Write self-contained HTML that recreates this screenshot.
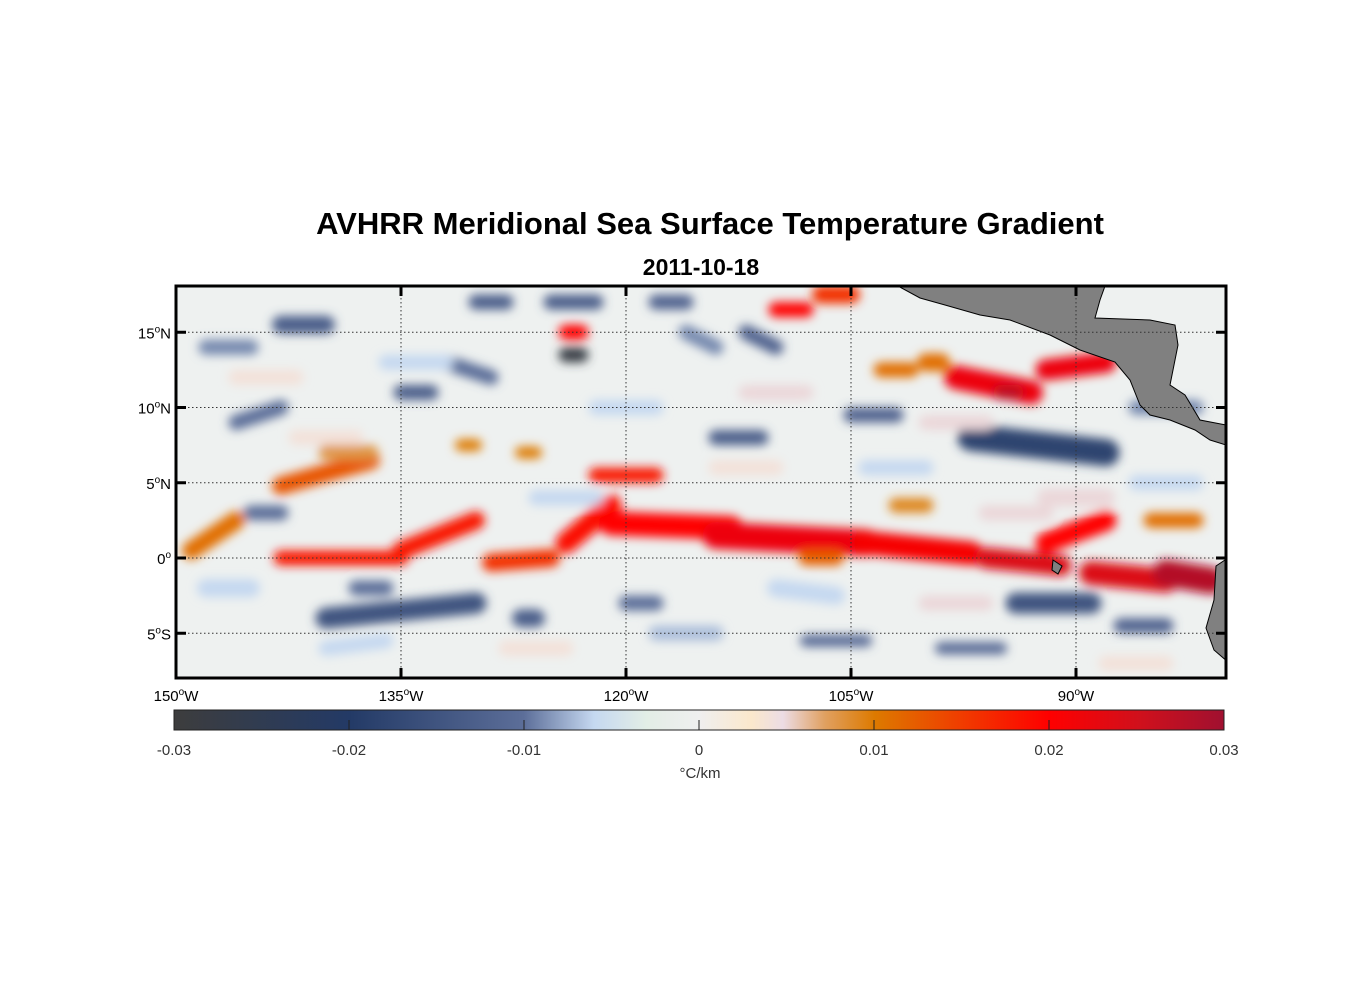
<!DOCTYPE html>
<html><head><meta charset="utf-8"><style>
body{margin:0;background:#fff;width:1356px;height:1000px;overflow:hidden;font-family:"Liberation Sans",sans-serif}
</style></head><body>
<svg width="1356" height="1000" style="position:absolute;left:0;top:0">
<defs>
<filter id="blur" x="-20%" y="-20%" width="140%" height="140%"><feGaussianBlur stdDeviation="5"/></filter>
<clipPath id="mapclip"><rect x="176" y="286" width="1050" height="392"/></clipPath>
<linearGradient id="cbg" x1="0" x2="1" y1="0" y2="0">
<stop offset="0" stop-color="#3d3d3d"/><stop offset="0.167" stop-color="#233a66"/>
<stop offset="0.333" stop-color="#5c6e99"/><stop offset="0.40" stop-color="#c5d8f0"/>
<stop offset="0.45" stop-color="#e3eee6"/><stop offset="0.5" stop-color="#efefef"/>
<stop offset="0.55" stop-color="#fbe8cc"/><stop offset="0.58" stop-color="#ecdce4"/>
<stop offset="0.62" stop-color="#e0a060"/><stop offset="0.667" stop-color="#dd7a00"/>
<stop offset="0.75" stop-color="#f03c00"/><stop offset="0.833" stop-color="#ff0000"/>
<stop offset="0.92" stop-color="#d0101c"/><stop offset="1" stop-color="#a01030"/>
</linearGradient>
</defs>
<text x="710" y="234" text-anchor="middle" font-size="31" font-weight="bold">AVHRR Meridional Sea Surface Temperature Gradient</text>
<text x="701" y="275" text-anchor="middle" font-size="23" font-weight="bold">2011-10-18</text>
<g clip-path="url(#mapclip)">
<rect x="176" y="286" width="1050" height="392" fill="#eef1f0"/>
<g id="fields" filter="url(#blur)"></g>
<polygon fill="#808080" stroke="#000" stroke-width="1" points="898,286 1105,286 1100,300 1095,318 1150,320 1175,325 1178,345 1170,385 1185,395 1200,420 1226,425 1226,445 1210,440 1195,430 1170,420 1150,415 1140,405 1130,380 1115,362 1080,350 1050,335 1010,320 980,315 945,305 920,298"/>
<polygon fill="#808080" stroke="#000" stroke-width="1" points="1228,558 1216,566 1214,600 1206,628 1214,650 1228,662"/>
<polygon fill="#808080" stroke="#000" stroke-width="1" points="1053,560 1062,566 1058,574 1052,570"/>
<g id="grid" stroke="#333" stroke-width="1" stroke-dasharray="1.5,2.5"></g>
</g>
<rect x="176" y="286" width="1050" height="392" fill="none" stroke="#000" stroke-width="3"/>
<g id="ticks"></g>
<rect x="174" y="710" width="1050" height="20" fill="url(#cbg)" stroke="#222" stroke-width="1"/>
<g id="cbticks"></g>
<text x="700" y="778" text-anchor="middle" font-size="15" fill="#333">°C/km</text>
</svg>
<script>
const NS='http://www.w3.org/2000/svg';
const lonTicks=[-150,-135,-120,-105,-90];
const lonLabels=['150','135','120','105','90'];
const latTicks=[15,10,5,0,-5];
const latLabels=['15','10','5','0','5'];
const latSuffix=['N','N','N','','S'];
const cbTicks=[-0.03,-0.02,-0.01,0,0.01,0.02,0.03];
const cbLabels=['-0.03','-0.02','-0.01','0','0.01','0.02','0.03'];
// features: start lon/lat, end lon/lat, width (deg), value (°C/km)
const fLon1=[-149,-143,-143,-135,-129,-124,-121,-114,-104,-96,-92,-89,-84,-122,-98,-92,-95,-124,-110,-107,-100,-103,-131,-127,-124,-97,-94,-140,-127,-135,-143,-130,-125,-118,-145,-112,-105,-114,-108,-99,-87,-120,-146,-132,-116,-86,-138,-148,-108,-85,-102,-140,-148,-140,-128,-118,-110,-100,-92,-86,-146,-136,-122,-112,-104,-96,-88,-142,-126,-114,-100];
const fLat1=[0.5,4.8,0,0.5,-0.3,1,2.3,1.5,1,0,1,-1,-1,5.5,12,12.5,11,15,16.5,17.5,13,12.5,7.5,7,13.5,8,-3,-4,-4,11,15.5,17,17,17,3,15,9.5,8,-5.5,-6,-4.5,-3,9,13,15,10,-2,14,0,2.5,3.5,7,-2,-6,-6,-5,-2,-3,4,5,12,13,10,11,6,3,-7,8,4,6,9];
const fLon2=[-146,-137,-135,-130,-125,-121,-113,-104,-97,-91,-88,-84,-81,-118,-93,-88,-94,-123,-108,-105,-99,-101,-130,-126,-123,-88,-89,-130,-126,-133,-140,-128,-122,-116,-143,-110,-102,-111,-104,-95,-84,-118,-143,-129,-114,-82,-136,-145,-106,-82,-100,-137,-145,-136,-124,-114,-106,-96,-88,-82,-142,-132,-118,-108,-100,-92,-84,-138,-122,-110,-96];
const fLat2=[2.5,6.5,0,2.5,0,3.5,2,1,0.3,-0.5,2.5,-1.5,-1.5,5.5,11,13,11,15,16.5,17.5,13,12.5,7.5,7,13.5,7,-3,-3,-4,11,15.5,17,17,17,3,14,9.5,8,-5.5,-6,-4.5,-3,10,12,14,10,-2,14,0,2.5,3.5,7,-2,-5.5,-6,-5,-2.5,-3,4,5,12,13,10,11,6,3,-7,8,4,6,9];
const fW=[1.2,1.2,1,1.2,1.2,1.4,1.6,1.8,1.6,1.4,1.4,1.6,1.8,1,1.6,1.4,1,1,1,1.2,1.2,1,0.8,0.8,1,1.8,1.4,1.4,1.2,1,1.2,1,1,1,1,1,1,1,0.8,0.8,1,1,1,1,1,1,1,1,1,1,1,1,1.2,1,1,1,1.2,1,1.2,1,1,1,1,1,1,1,1,1,1,1,1];
const fVal=[0.011,0.013,0.018,0.018,0.016,0.019,0.02,0.022,0.021,0.024,0.02,0.024,0.028,0.018,0.022,0.022,0.027,0.02,0.02,0.016,0.011,0.011,0.01,0.01,-0.028,-0.018,-0.015,-0.015,-0.013,-0.013,-0.013,-0.013,-0.013,-0.012,-0.01,-0.012,-0.012,-0.013,-0.011,-0.011,-0.012,-0.01,-0.01,-0.01,-0.009,-0.009,-0.01,-0.009,0.012,0.011,0.009,0.008,-0.006,-0.006,0.004,-0.007,-0.006,0.005,0.005,-0.006,0.004,-0.006,-0.006,0.005,-0.006,0.005,0.004,0.004,-0.006,0.004,0.005];
const x=lon=>176+(lon+150)*(1050/70);
const y=lat=>558-lat*15.05;
const cbx=v=>174+(v+0.03)/0.06*1050;
const stops=[[-0.03,[61,61,61]],[-0.02,[35,58,102]],[-0.01,[92,110,153]],[-0.006,[197,216,240]],[-0.003,[227,238,230]],[0,[239,239,239]],[0.003,[251,232,204]],[0.0048,[236,220,228]],[0.0072,[224,160,96]],[0.01,[221,122,0]],[0.015,[240,60,0]],[0.02,[255,0,0]],[0.0252,[208,16,28]],[0.03,[160,16,48]]];
function col(v){v=Math.max(-0.03,Math.min(0.03,v));for(let i=0;i<stops.length-1;i++){const [a,ca]=stops[i],[b,cb]=stops[i+1];if(v<=b){const t=(v-a)/(b-a);return 'rgb('+ca.map((c,k)=>Math.round(c+(cb[k]-c)*t)).join(',')+')';}}return 'rgb(160,16,48)';}
const fg=document.getElementById('fields');
for(let i=0;i<fVal.length;i++){const l=document.createElementNS(NS,'line');


l.setAttribute('x1',x(fLon1[i]));l.setAttribute('y1',y(fLat1[i]));l.setAttribute('x2',x(fLon2[i]));l.setAttribute('y2',y(fLat2[i]));
l.setAttribute('stroke',col(fVal[i]));l.setAttribute('stroke-width',fW[i]*15);l.setAttribute('stroke-linecap','round');fg.appendChild(l);}
const gg=document.getElementById('grid'),tk=document.getElementById('ticks');
lonTicks.forEach((lo,i)=>{const X=x(lo);
if(i>0){const l=document.createElementNS(NS,'line');


l.setAttribute('x1',X);l.setAttribute('x2',X);l.setAttribute('y1',286);l.setAttribute('y2',678);gg.appendChild(l);
[[286,296],[668,678]].forEach(p=>{const t=document.createElementNS(NS,'line');


t.setAttribute('x1',X);t.setAttribute('x2',X);t.setAttribute('y1',p[0]);t.setAttribute('y2',p[1]);t.setAttribute('stroke','#000');t.setAttribute('stroke-width',3);tk.appendChild(t);});}
const tx=document.createElementNS(NS,'text');


tx.setAttribute('x',X);tx.setAttribute('y',701);tx.setAttribute('text-anchor','middle');tx.setAttribute('font-size','15');
tx.innerHTML=lonLabels[i]+'<tspan font-size="10" dy="-6">o</tspan><tspan dy="6">W</tspan>';tk.appendChild(tx);});
latTicks.forEach((la,i)=>{const Y=y(la);
const l=document.createElementNS(NS,'line');


l.setAttribute('x1',176);l.setAttribute('x2',1226);l.setAttribute('y1',Y);l.setAttribute('y2',Y);gg.appendChild(l);
[[176,186],[1216,1226]].forEach(p=>{const t=document.createElementNS(NS,'line');


t.setAttribute('x1',p[0]);t.setAttribute('x2',p[1]);t.setAttribute('y1',Y);t.setAttribute('y2',Y);t.setAttribute('stroke','#000');t.setAttribute('stroke-width',3);tk.appendChild(t);});
const tx=document.createElementNS(NS,'text');


tx.setAttribute('x',171);tx.setAttribute('y',Y+6);tx.setAttribute('text-anchor','end');tx.setAttribute('font-size','15');
tx.innerHTML=latLabels[i]+'<tspan font-size="10" dy="-6">o</tspan><tspan dy="6">'+latSuffix[i]+'</tspan>';tk.appendChild(tx);});
const cg=document.getElementById('cbticks');
cbTicks.forEach((v,i)=>{const X=cbx(v);
if(i>0&&i<cbTicks.length-1){const t=document.createElementNS(NS,'line');


t.setAttribute('x1',X);t.setAttribute('x2',X);t.setAttribute('y1',720);t.setAttribute('y2',730);t.setAttribute('stroke','#222');cg.appendChild(t);}
const tx=document.createElementNS(NS,'text');


tx.setAttribute('x',X);tx.setAttribute('y',755);tx.setAttribute('text-anchor','middle');tx.setAttribute('font-size','15');tx.setAttribute('fill','#333');
tx.textContent=cbLabels[i];cg.appendChild(tx);});
</script>
</body></html>
